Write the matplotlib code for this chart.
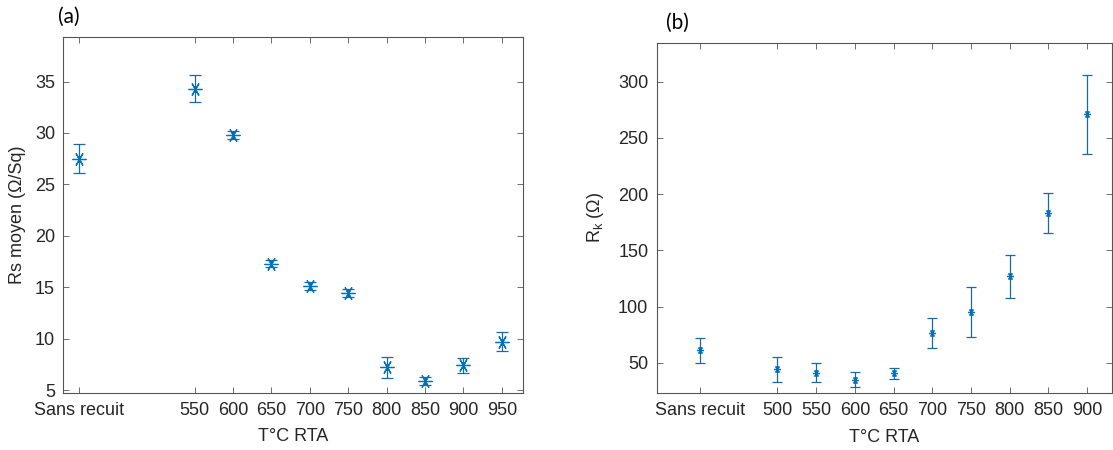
import numpy as np
import matplotlib.pyplot as plt

plt.rcParams['font.family'] = ['Liberation Sans', 'DejaVu Sans']
plt.rcParams['font.size'] = 13

# (a) sheet resistance vs RTA temperature ("Sans recuit" placed at 400)
temps_a = [400, 550, 600, 650, 700, 750, 800, 850, 900, 950]
labels_a = ['Sans recuit', '550', '600', '650', '700', '750', '800', '850', '900', '950']
rs_mean = [27.5, 34.3, 29.8, 17.3, 15.1, 14.4, 7.2, 5.9, 7.4, 9.7]
rs_err = [1.4, 1.3, 0.35, 0.35, 0.4, 0.4, 1.0, 0.4, 0.75, 0.9]

# (b) contact resistance
temps_b = [400, 500, 550, 600, 650, 700, 750, 800, 850, 900]
labels_b = ['Sans recuit', '500', '550', '600', '650', '700', '750', '800', '850', '900']
rk_mean = [61, 44, 41, 35, 40.5, 76.5, 95, 127, 183, 271]
rk_err = [11, 11, 8.5, 6.5, 4.6, 13.4, 22.5, 19, 17.6, 35]

blue = '#0072BD'
dark = '#262626'

fig = plt.figure(figsize=(11.13, 4.5), dpi=100)
ax1 = fig.add_axes([0.0569, 0.1273, 0.4133, 0.7898])
ax2 = fig.add_axes([0.590, 0.1273, 0.409, 0.7778])

ax1.errorbar(temps_a, rs_mean, yerr=rs_err, fmt='none', ecolor='#1a6aa0',
             elinewidth=0.9, capsize=4, capthick=0.9)
ax1.plot(temps_a, rs_mean, ls='none', marker=(6, 2, 30), ms=10, mew=0.9, color=blue)

ax2.errorbar(temps_b, rk_mean, yerr=rk_err, fmt='none', ecolor='#1a6aa0',
             elinewidth=0.9, capsize=3.5, capthick=0.9)
ax2.plot(temps_b, rk_mean, ls='none', marker=(6, 2, 30), ms=5, mew=0.9, color=blue)

ax1.set_xlim(379, 978)
ax1.set_ylim(4.74, 39.3)
ax1.set_xticks(temps_a)
ax1.set_xticklabels(labels_a)
ax1.set_yticks([5, 10, 15, 20, 25, 30, 35])
ax1.set_ylabel('Rs moyen (Ω/Sq)', color=dark)
ax1.set_xlabel('T°C RTA', color=dark)
ax1.yaxis.set_label_coords(-0.081, 0.5)
ax1.xaxis.set_label_coords(0.5, -0.10)

ax2.set_xlim(344, 932)
ax2.set_ylim(23.3, 334.7)
ax2.set_xticks(temps_b)
ax2.set_xticklabels(labels_b)
ax2.set_yticks([50, 100, 150, 200, 250, 300])
ax2.set_ylabel(r'R$_\mathregular{k}$ (Ω)', color=dark)
ax2.set_xlabel('T°C RTA', color=dark)
ax2.yaxis.set_label_coords(-0.111, 0.5)
ax2.xaxis.set_label_coords(0.5, -0.104)

for ax in (ax1, ax2):
    ax.tick_params(direction='in', top=True, right=True, length=4, width=0.6,
                   color='#555555', labelcolor=dark)
    ax.tick_params(axis='x', pad=7)
    ax.tick_params(axis='y', pad=6)
    for s in ax.spines.values():
        s.set_color('#555555')
        s.set_linewidth(0.8)

fig.text(0.052, 0.962, '(a)', fontsize=15, family=['Lato', 'DejaVu Sans'], va='center')
fig.text(0.598, 0.949, '(b)', fontsize=15, family=['Lato', 'DejaVu Sans'], va='center')

fig.savefig('out.png', dpi=100)
